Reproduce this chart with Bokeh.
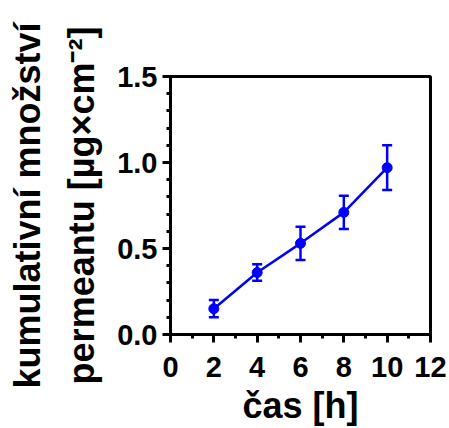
from bokeh.plotting import figure
from bokeh.models import (Range1d, Whisker, TeeHead, ColumnDataSource,
                          SingleIntervalTicker, NumeralTickFormatter)
from bokeh.embed import file_html
from bokeh.resources import INLINE

# data
time_h = [2, 4, 6, 8, 10]
mean_val = [0.15, 0.36, 0.53, 0.71, 0.97]
sd_val = [0.05, 0.048, 0.097, 0.096, 0.13]

x_title = "čas [h]"
y_title_lines = ["kumulativní množství", "permeantu [µg×cm⁻²]"]

FONT = "Liberation Sans"
BLUE = "#0000FF"
W, H = 449, 428

upper = [m + s for m, s in zip(mean_val, sd_val)]
lower = [m - s for m, s in zip(mean_val, sd_val)]
src = ColumnDataSource(dict(x=time_h, y=mean_val, upper=upper, lower=lower))

p = figure(width=W, height=H, output_backend="svg", toolbar_location=None,
           x_range=Range1d(0, 12), y_range=Range1d(0, 1.5),
           min_border_left=170, min_border_right=19, min_border_top=76,
           min_border_bottom=93)
p.background_fill_color = "white"
p.border_fill_color = "white"
p.outline_line_color = "black"
p.outline_line_width = 3
p.xgrid.visible = False
p.ygrid.visible = False

p.xaxis.ticker = SingleIntervalTicker(interval=2, num_minor_ticks=2)
p.yaxis.ticker = SingleIntervalTicker(interval=0.5, num_minor_ticks=5)
p.yaxis.formatter = NumeralTickFormatter(format="0.0")

for ax in (p.xaxis, p.yaxis):
    ax.axis_line_width = 3
    ax.axis_line_color = "black"
    ax.major_tick_in = 0
    ax.major_tick_out = 8
    ax.minor_tick_in = 0
    ax.minor_tick_out = 4
    ax.major_tick_line_width = 3
    ax.minor_tick_line_width = 3
    ax.major_label_text_font = FONT
    ax.major_label_text_font_style = "bold"
    ax.major_label_text_font_size = "29px"
    ax.major_label_text_color = "black"
    ax.axis_label_text_font = FONT
    ax.axis_label_text_font_style = "bold"
    ax.axis_label_text_font_size = "36px"
    ax.axis_label_text_color = "black"

p.yaxis.major_label_standoff = 5
p.xaxis.major_label_standoff = 14

p.xaxis.axis_label = x_title
p.xaxis.axis_label_standoff = 5

p.yaxis.axis_label = "\n".join(y_title_lines)
p.yaxis.axis_label_text_line_height = 1.33
p.yaxis.axis_label_standoff = 12

p.line("x", "y", source=src, line_color=BLUE, line_width=2.5)
p.add_layout(Whisker(source=src, base="x", upper="upper", lower="lower",
                     dimension="height", line_color=BLUE, line_width=2.5,
                     upper_head=TeeHead(size=10, line_color=BLUE, line_width=2.5),
                     lower_head=TeeHead(size=10, line_color=BLUE, line_width=2.5)))
p.scatter("x", "y", source=src, size=10, fill_color=BLUE, line_color=BLUE)

open("out.html", "w").write(file_html(p, INLINE))
